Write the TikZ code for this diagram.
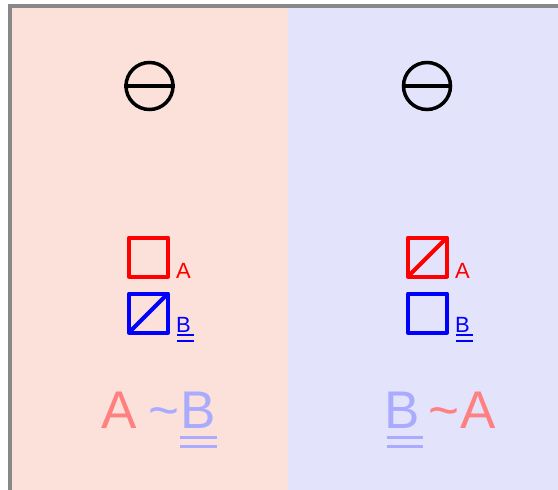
\documentclass[tikz,border=0pt]{standalone}
\usepackage{fontspec}
\setmainfont{Liberation Sans}
\usetikzlibrary{positioning}
\definecolor{leftbg}{HTML}{FCE0DA}
\definecolor{rightbg}{HTML}{E3E3FB}
\definecolor{frame}{HTML}{888888}
\definecolor{softA}{HTML}{FF8080}
\definecolor{softB}{HTML}{AAAAFF}

\begin{document}
\begin{tikzpicture}[x=1pt, y=-1pt,
  neg/.style={draw, circle, line width=3.5pt, minimum size=47pt, inner sep=0pt},
  sq/.style={draw=#1, line width=4pt, line join=round, minimum size=39pt, inner sep=0pt},
  slash/.style={draw=#1, line width=4pt, shorten <=3pt, shorten >=3pt},
  tag/.style={text=#1, font=\fontsize{22}{22}\selectfont, inner sep=0pt, anchor=base west},
  big/.style={text=#1, font=\fontsize{53}{53}\selectfont, inner sep=0pt, anchor=base west}]
\useasboundingbox (0,0) rectangle (558,490);
\clip (0,0) rectangle (558,490);
% two halves and the frame
\fill[leftbg] (10,6) rectangle (288,500);
\fill[rightbg] (288,6) rectangle (570,500);
\draw[frame, line width=4pt] (10,6) rectangle (570,500);

% left half
\node[neg] (lneg) at (149.5,86) {};
\draw[line width=4.5pt] (lneg.west) -- (lneg.east);
\node[sq=red] (lsqa) at (148.5,257) {};
\node[sq=blue] (lsqb) at (148.5,313) {};
\draw[slash=blue] (lsqb.south west) -- (lsqb.north east);
\node[tag=red] (lta) at ([xshift=6pt]lsqa.south east) {A};
\node[tag=blue] (ltb) at ([xshift=6pt, yshift=2.5pt]lsqb.south east) {B};
\draw[blue, line width=2pt] ([xshift=1pt, yshift=-3pt]ltb.base west) -- ([xshift=3pt, yshift=-3pt]ltb.base east);
\draw[blue, line width=2pt] ([xshift=1pt, yshift=-9pt]ltb.base west) -- ([xshift=3pt, yshift=-9pt]ltb.base east);
\node[big=softA] (lbigA) at (101,428) {A};
\node[big=softB] (ltil) at (148.5,428) {\textasciitilde};
\node[big=softB] (lbigB) at (ltil.base east) {B};
\draw[softB, line width=3pt] ([yshift=-9pt]lbigB.base west) -- ([xshift=1pt, yshift=-9pt]lbigB.base east);
\draw[softB, line width=3pt] ([yshift=-18pt]lbigB.base west) -- ([xshift=1pt, yshift=-18pt]lbigB.base east);

% right half
\node[neg] (rneg) at (427,86) {};
\draw[line width=4.5pt] (rneg.west) -- (rneg.east);
\node[sq=red] (rsqa) at (427.5,257) {};
\node[sq=blue] (rsqb) at (427.5,313) {};
\draw[slash=red] (rsqa.south west) -- (rsqa.north east);
\node[tag=red] (rta) at ([xshift=6pt]rsqa.south east) {A};
\node[tag=blue] (rtb) at ([xshift=6pt, yshift=2.5pt]rsqb.south east) {B};
\draw[blue, line width=2pt] ([xshift=1pt, yshift=-3pt]rtb.base west) -- ([xshift=3pt, yshift=-3pt]rtb.base east);
\draw[blue, line width=2pt] ([xshift=1pt, yshift=-9pt]rtb.base west) -- ([xshift=3pt, yshift=-9pt]rtb.base east);
\node[big=softB] (rbigB) at (384,428) {B};
\draw[softB, line width=3pt] ([xshift=3pt, yshift=-9pt]rbigB.base west) -- ([xshift=3pt, yshift=-9pt]rbigB.base east);
\draw[softB, line width=3pt] ([xshift=3pt, yshift=-18pt]rbigB.base west) -- ([xshift=3pt, yshift=-18pt]rbigB.base east);
\node[big=softA] (rtil) at (428.5,428) {\textasciitilde};
\node[big=softA] (rbigA) at (rtil.base east) {A};
\end{tikzpicture}
\end{document}
